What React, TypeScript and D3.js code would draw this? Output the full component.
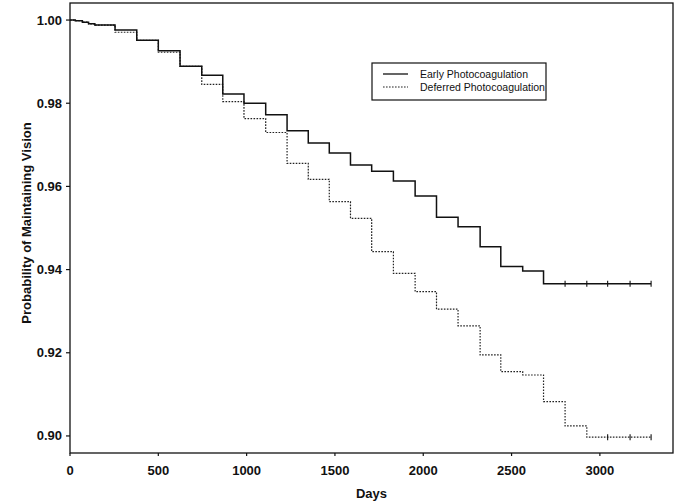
import React from "react";
import * as d3 from "d3";

const width = 683;
const height = 504;

// step times (days) and survival probabilities
const earlyDays = [0, 30, 70, 105, 140, 255, 378, 500, 623, 746, 865, 985, 1108, 1229, 1349, 1468, 1588, 1708, 1831, 1954, 2075, 2197, 2322, 2439, 2563, 2681, 3290];
const earlyProb = [1.0, 0.99985, 0.9995, 0.9991, 0.9988, 0.9976, 0.99514, 0.9926, 0.98887, 0.98671, 0.98221, 0.97998, 0.97724, 0.97339, 0.97043, 0.96803, 0.96514, 0.96365, 0.9613, 0.95769, 0.95257, 0.95031, 0.9455, 0.94075, 0.93966, 0.93661, 0.93661];
const earlyCensored = [2803, 2926, 3044, 3171, 3290];

const deferredDays = [0, 30, 70, 105, 140, 255, 378, 500, 623, 746, 865, 985, 1108, 1229, 1349, 1468, 1588, 1708, 1831, 1954, 2075, 2197, 2322, 2439, 2563, 2681, 2803, 2926, 3290];
const deferredProb = [1.0, 0.99985, 0.9995, 0.9991, 0.9988, 0.99707, 0.99514, 0.99226, 0.98887, 0.98454, 0.98041, 0.97632, 0.97296, 0.96555, 0.96171, 0.95632, 0.95233, 0.9443, 0.93911, 0.93469, 0.93048, 0.92649, 0.91947, 0.91546, 0.91466, 0.90825, 0.9024, 0.8997, 0.8997];
const deferredCensored = [3044, 3171, 3290];

const xTicks = [0, 500, 1000, 1500, 2000, 2500, 3000];
const yTicks = [0.9, 0.92, 0.94, 0.96, 0.98, 1.0];

const seriesNames = ["Early Photocoagulation", "Deferred Photocoagulation"];

const margin = { left: 70, top: 3, right: 10, bottom: 51 };
const font = "'Liberation Sans', Arial, Helvetica, sans-serif";

export default function App() {
  const x = d3
    .scaleLinear()
    .domain([0, 3414])
    .range([margin.left, width - margin.right]);
  const y = d3
    .scaleLinear()
    .domain([0.8959, 1.0041])
    .range([height - margin.bottom, margin.top]);

  const line = d3
    .line<[number, number]>()
    .x(d => x(d[0]))
    .y(d => y(d[1]))
    .curve(d3.curveStepAfter);

  const early = earlyDays.map((d, i) => [d, earlyProb[i]] as [number, number]);
  const deferred = deferredDays.map((d, i) => [d, deferredProb[i]] as [number, number]);
  const earlyEnd = earlyProb[earlyProb.length - 1];
  const deferredEnd = deferredProb[deferredProb.length - 1];

  const fmt = d3.format(".2f");
  const x0 = margin.left;
  const x1 = width - margin.right;
  const y0 = height - margin.bottom;
  const y1 = margin.top;

  return (
    <svg
      width={width}
      height={height}
      style={{ position: "absolute", left: 0, top: 0, background: "#fff" }}
      fontFamily={font}
    >
      <rect x={0} y={0} width={width} height={height} fill="#fff" />
      {/* frame */}
      <rect x={x0} y={y1} width={x1 - x0} height={y0 - y1} fill="none" stroke="#111" strokeWidth={1.3} />

      {/* y axis */}
      {yTicks.map(t => (
        <g key={t}>
          <line x1={x0 - 4} x2={x0} y1={y(t)} y2={y(t)} stroke="#111" strokeWidth={1.2} />
          <text x={x0 - 8} y={y(t) + 4.5} textAnchor="end" fontSize={13} fontWeight="bold" fill="#111">
            {fmt(t)}
          </text>
        </g>
      ))}
      <text
        transform={`translate(30.5,${(y0 + y1) / 2 - 5}) rotate(-90)`}
        textAnchor="middle"
        fontSize={13}
        fontWeight="bold"
        fill="#111"
      >
        Probability of Maintaining Vision
      </text>

      {/* x axis */}
      {xTicks.map(t => (
        <g key={t}>
          <line x1={x(t)} x2={x(t)} y1={y0} y2={y0 + 3} stroke="#111" strokeWidth={1.2} />
          <text x={x(t)} y={y0 + 22} textAnchor="middle" fontSize={13} fontWeight="bold" fill="#111">
            {t}
          </text>
        </g>
      ))}
      <text x={(x0 + x1) / 2} y={y0 + 45} textAnchor="middle" fontSize={13} fontWeight="bold" fill="#111">
        Days
      </text>

      {/* curves */}
      <path d={line(deferred) || ""} fill="none" stroke="#222" strokeWidth={1.2} strokeDasharray="1.6,1.4" />
      <path d={line(early) || ""} fill="none" stroke="#111" strokeWidth={1.5} />
      {earlyCensored.map(d => (
        <line key={"e" + d} x1={x(d)} x2={x(d)} y1={y(earlyEnd) - 3} y2={y(earlyEnd) + 3} stroke="#111" strokeWidth={1.1} />
      ))}
      {deferredCensored.map(d => (
        <line key={"d" + d} x1={x(d)} x2={x(d)} y1={y(deferredEnd) - 3} y2={y(deferredEnd) + 3} stroke="#111" strokeWidth={1.1} />
      ))}

      {/* legend */}
      <g>
        <rect x={372} y={63} width={174} height={37} fill="#fff" stroke="#111" strokeWidth={1.2} />
        <line x1={383} x2={408} y1={74} y2={74} stroke="#111" strokeWidth={1.3} />
        <line x1={383} x2={408} y1={87} y2={87} stroke="#222" strokeWidth={1.2} strokeDasharray="1.6,1.4" />
        <text x={420} y={78} fontSize={10.5} fill="#111">{seriesNames[0]}</text>
        <text x={420} y={91} fontSize={10.5} fill="#111">{seriesNames[1]}</text>
      </g>
    </svg>
  );
}
